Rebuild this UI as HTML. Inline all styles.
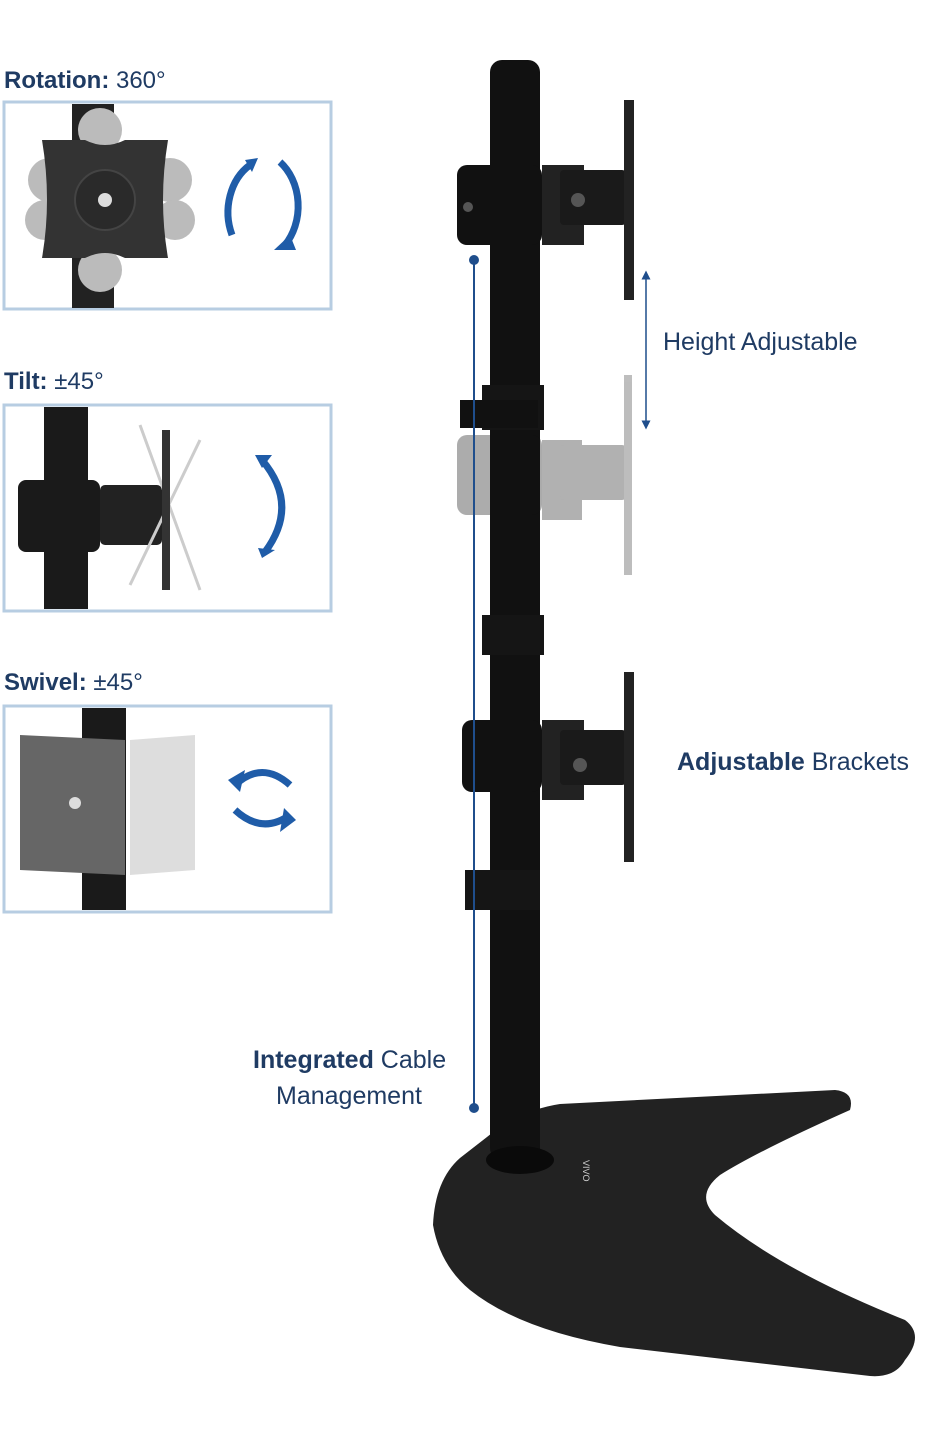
<!DOCTYPE html>
<html><head><meta charset="utf-8"><style>
html,body{margin:0;padding:0;background:#fff;}
svg{display:block;}
text{font-family:"Liberation Sans",sans-serif;fill:#1f3b63;}
</style></head><body>
<svg width="928" height="1440" viewBox="0 0 928 1440" xmlns="http://www.w3.org/2000/svg">
<defs>
<marker id="ah" viewBox="0 0 10 10" refX="5" refY="5" markerWidth="6" markerHeight="6" orient="auto-start-reverse"><path d="M0,0 L10,5 L0,10 z" fill="#1f4e8c"/></marker>
</defs>
<text x="4" y="88" font-size="24"><tspan font-weight="bold">Rotation:</tspan> 360°</text>
<text x="4" y="389" font-size="24"><tspan font-weight="bold">Tilt:</tspan> ±45°</text>
<text x="4" y="690" font-size="24"><tspan font-weight="bold">Swivel:</tspan> ±45°</text>

<!-- box1 -->
<rect x="4" y="102" width="327" height="207" fill="#fff" stroke="#b7cde2" stroke-width="3"/>
<rect x="72" y="104" width="42" height="204" fill="#222"/>
<g fill="#bbb"><circle cx="50" cy="180" r="22"/><circle cx="170" cy="180" r="22"/><circle cx="100" cy="130" r="22"/><circle cx="100" cy="270" r="22"/><circle cx="45" cy="220" r="20"/><circle cx="175" cy="220" r="20"/></g>
<path d="M42,140 L85,140 Q105,150 125,140 L168,140 Q158,200 168,258 L125,258 Q105,248 85,258 L42,258 Q52,200 42,140 Z" fill="#333"/>
<circle cx="105" cy="200" r="30" fill="#2a2a2a" stroke="#444" stroke-width="2"/>
<circle cx="105" cy="200" r="7" fill="#ddd"/>
<path d="M232,235 A45,55 0 0 1 250,165" fill="none" stroke="#1f5ca8" stroke-width="7"/>
<path d="M245,160 L258,158 L252,172 Z" fill="#1f5ca8"/>
<path d="M280,162 A45,55 0 0 1 285,245" fill="none" stroke="#1f5ca8" stroke-width="7"/>
<path d="M274,250 L296,250 L290,235 Z" fill="#1f5ca8"/>

<!-- box2 -->
<rect x="4" y="405" width="327" height="206" fill="#fff" stroke="#b7cde2" stroke-width="3"/>
<rect x="44" y="407" width="44" height="202" fill="#1a1a1a"/>
<rect x="18" y="480" width="82" height="72" rx="8" fill="#1a1a1a"/>
<rect x="100" y="485" width="62" height="60" rx="5" fill="#222"/>
<line x1="140" y1="425" x2="200" y2="590" stroke="#ccc" stroke-width="3"/>
<line x1="200" y1="440" x2="130" y2="585" stroke="#ccc" stroke-width="3"/>
<rect x="162" y="430" width="8" height="160" fill="#333"/>
<path d="M262,460 Q300,505 265,552" fill="none" stroke="#1f5ca8" stroke-width="7"/>
<path d="M255,455 L272,455 L262,468 Z M258,548 L275,550 L262,558 Z" fill="#1f5ca8"/>

<!-- box3 -->
<rect x="4" y="706" width="327" height="206" fill="#fff" stroke="#b7cde2" stroke-width="3"/>
<rect x="82" y="708" width="44" height="202" fill="#1a1a1a"/>
<path d="M20,735 L125,740 L125,875 L20,870 Z" fill="#666"/>
<path d="M130,740 L195,735 L195,870 L130,875 Z" fill="#ddd"/>
<circle cx="75" cy="803" r="6" fill="#ddd"/>
<path d="M235,785 Q262,760 290,785" fill="none" stroke="#1f5ca8" stroke-width="7"/>
<path d="M235,810 Q262,835 290,815" fill="none" stroke="#1f5ca8" stroke-width="7"/>
<path d="M228,780 L245,770 L240,792 Z M296,820 L280,832 L284,808 Z" fill="#1f5ca8"/>

<!-- base -->
<path d="M487,1137 Q520,1110 560,1104 L835,1090 Q855,1092 850,1110 Q760,1150 720,1175 Q695,1195 715,1215 Q780,1270 905,1320 Q925,1335 905,1360 Q895,1378 870,1376 L620,1347 Q520,1330 470,1290 Q440,1265 433,1225 Q435,1180 460,1158 Z" fill="#222"/>
<rect x="490" y="60" width="50" height="1100" rx="12" fill="#111"/>
<ellipse cx="520" cy="1160" rx="34" ry="14" fill="#0a0a0a"/>
<text x="585" y="1172" font-size="9" style="fill:#ccc" transform="rotate(90 590 1165)">VIVO</text>
<rect x="482" y="385" width="62" height="45" fill="#151515"/>
<rect x="482" y="615" width="62" height="40" fill="#151515"/>
<rect x="465" y="870" width="75" height="40" fill="#151515"/>
<rect x="460" y="400" width="78" height="28" fill="#111"/>
<rect x="457" y="165" width="85" height="80" rx="10" fill="#111"/>
<rect x="542" y="165" width="42" height="80" fill="#222"/>
<rect x="560" y="170" width="66" height="55" rx="4" fill="#1a1a1a"/>
<rect x="624" y="100" width="10" height="200" fill="#222"/>
<circle cx="468" cy="207" r="5" fill="#555"/><circle cx="578" cy="200" r="7" fill="#555"/>
<g opacity="0.35">
<rect x="457" y="435" width="85" height="80" rx="10" fill="#111"/>
<rect x="542" y="440" width="40" height="80" fill="#222"/>
<rect x="560" y="445" width="66" height="55" rx="4" fill="#222"/>
<rect x="624" y="375" width="8" height="200" fill="#444"/>
</g>
<rect x="462" y="720" width="80" height="72" rx="10" fill="#111"/>
<rect x="542" y="720" width="42" height="80" fill="#222"/>
<rect x="560" y="730" width="66" height="55" rx="4" fill="#1a1a1a"/>
<rect x="624" y="672" width="10" height="190" fill="#222"/>
<circle cx="580" cy="765" r="7" fill="#555"/>

<line x1="474" y1="260" x2="474" y2="1108" stroke="#1f4e8c" stroke-width="2"/>
<circle cx="474" cy="260" r="5" fill="#1f4e8c"/><circle cx="474" cy="1108" r="5" fill="#1f4e8c"/>
<line x1="646" y1="275" x2="646" y2="425" stroke="#1f4e8c" stroke-width="1.5" marker-start="url(#ah)" marker-end="url(#ah)"/>

<text x="663" y="350" font-size="25">Height Adjustable</text>
<text x="677" y="770" font-size="25"><tspan font-weight="bold">Adjustable</tspan> Brackets</text>
<text x="253" y="1068" font-size="25"><tspan font-weight="bold">Integrated</tspan> Cable</text>
<text x="276" y="1104" font-size="25">Management</text>
</svg>
</body></html>
